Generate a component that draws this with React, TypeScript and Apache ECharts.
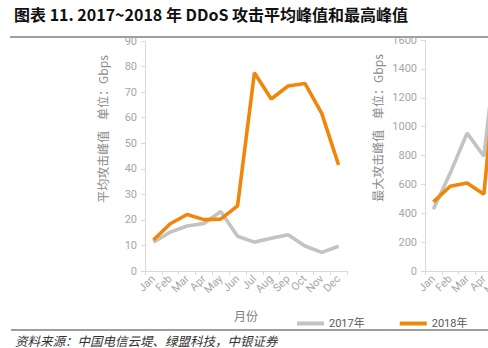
import React, { useEffect, useRef } from "react";
import * as echarts from "echarts";

const months = ["Jan", "Feb", "Mar", "Apr", "May", "Jun", "Jul", "Aug", "Sep", "Oct", "Nov", "Dec"];
const seriesNames = ["2017年", "2018年"];
// 平均攻击峰值 (Gbps)
const avg2017 = [11.3, 15.2, 17.6, 18.6, 23.3, 13.6, 11.3, 12.8, 14.2, 9.8, 7.3, 9.7];
const avg2018 = [12.1, 18.5, 22.1, 20.1, 20.3, 25.5, 77.6, 67.3, 72.4, 73.4, 61.7, 41.5];
// 最大攻击峰值 (Gbps) — only Jan–May visible in the picture
const max2017 = [428, 678, 955, 795, 1800];
const max2018 = [479, 587, 610, 532, 1750];

const titleText = "图表 11. 2017~2018 年 DDoS 攻击平均峰值和最高峰值";
const sourceText = "资料来源：中国电信云堤、绿盟科技，中银证券";
const avgAxisName = "平均攻击峰值    单位：Gbps";
const maxAxisName = "最大攻击峰值    单位：Gbps";
const xAxisName = "月份";

const GRAY = "#C3C3C3";
const ORANGE = "#F0870A";
const AXIS = "#D9D9D9";
const LABEL = "#A6A6A6";

export default function App() {
  const ref = useRef<HTMLDivElement>(null);
  useEffect(() => {
    if (!ref.current) return;
    const chart = echarts.init(ref.current, null, { renderer: "svg" });
    const font = "Roboto, 'Noto Sans CJK SC', sans-serif";
    const xAxisBase = (gridIndex: number, withName: boolean) => ({
      type: "category",
      gridIndex,
      data: months,
      boundaryGap: true,
      axisLine: { lineStyle: { color: AXIS, width: 1 } },
      axisTick: { show: true, length: 4, lineStyle: { color: AXIS } },
      axisLabel: { rotate: 45, color: LABEL, fontSize: 11, fontFamily: font, margin: 6, interval: 0 },
      name: withName ? xAxisName : "",
      nameLocation: "middle",
      nameGap: 38,
      nameTextStyle: { color: "#7F7F7F", fontSize: 12, fontFamily: "'Noto Sans CJK SC', sans-serif" },
    });
    const yAxisBase = (gridIndex: number, max: number, interval: number) => ({
      type: "value",
      gridIndex,
      min: 0,
      max,
      interval,
      axisLine: { show: true, lineStyle: { color: AXIS, width: 1 } },
      axisTick: { show: true, length: 4, lineStyle: { color: AXIS } },
      splitLine: { show: false },
      axisLabel: {
        color: LABEL,
        fontSize: 11,
        fontFamily: font,
        margin: 8,
        formatter: (v: number) => String(v),
      },
    });
    const lineSeries = (name: string, data: number[], color: string, idx: number) => ({
      name,
      type: "line",
      xAxisIndex: idx,
      yAxisIndex: idx,
      data,
      symbol: "none",
      smooth: false,
      lineStyle: { color, width: 3.6 },
      itemStyle: { color },
      z: name === "2018年" ? 3 : 2,
    });
    chart.setOption({
      animation: false,
      backgroundColor: "#FFFFFF",
      grid: [
        { left: 145, top: 41, width: 202, height: 230, outerBoundsMode: "none", containLabel: false },
        { left: 425, top: 40, width: 202, height: 231, outerBoundsMode: "none", containLabel: false },
      ],
      xAxis: [xAxisBase(0, true), xAxisBase(1, false)],
      yAxis: [yAxisBase(0, 90, 10), yAxisBase(1, 1600, 200)],
      legend: {
        data: seriesNames,
        left: 292,
        top: 313,
        icon: "rect",
        itemWidth: 27,
        itemHeight: 4,
        itemGap: 35,
        textStyle: { color: "#595959", fontSize: 11, fontFamily: font },
      },
      series: [
        lineSeries(seriesNames[0], avg2017, GRAY, 0),
        lineSeries(seriesNames[1], avg2018, ORANGE, 0),
        lineSeries(seriesNames[0], max2017, GRAY, 1),
        lineSeries(seriesNames[1], max2018, ORANGE, 1),
      ],
      graphic: [
        {
          type: "text",
          left: 14,
          top: 6,
          style: {
            text: titleText,
            fill: "#111111",
            fontSize: 16,
            fontWeight: "bold",
            fontFamily: "'Noto Sans CJK SC', sans-serif",
          },
        },
        { type: "line", shape: { x1: 10, y1: 37, x2: 488, y2: 37 }, style: { stroke: "#3F3F3F", lineWidth: 1 } },
        { type: "line", shape: { x1: 11, y1: 330, x2: 488, y2: 330 }, style: { stroke: "#3F3F3F", lineWidth: 1.2 } },
        {
          type: "text",
          left: 15,
          top: 334,
          style: {
            text: sourceText,
            fill: "#333333",
            fontSize: 12.5,
            fontStyle: "italic",
            fontFamily: "'Noto Sans CJK SC', sans-serif",
          },
        },
        {
          type: "text",
          x: 102,
          y: 129,
          rotation: Math.PI / 2,
          style: {
            text: avgAxisName,
            fill: "#8C8C8C",
            fontSize: 12,
            align: "center",
            verticalAlign: "middle",
            fontFamily: "'Noto Sans CJK SC', sans-serif",
          },
        },
        {
          type: "text",
          x: 377,
          y: 128,
          rotation: Math.PI / 2,
          style: {
            text: maxAxisName,
            fill: "#8C8C8C",
            fontSize: 12,
            align: "center",
            verticalAlign: "middle",
            fontFamily: "'Noto Sans CJK SC', sans-serif",
          },
        },
      ],
    });
    return () => chart.dispose();
  }, []);
  return (
    <div
      ref={ref}
      style={{ position: "fixed", left: 0, top: 0, width: 488, height: 348, background: "#fff" }}
    />
  );
}
